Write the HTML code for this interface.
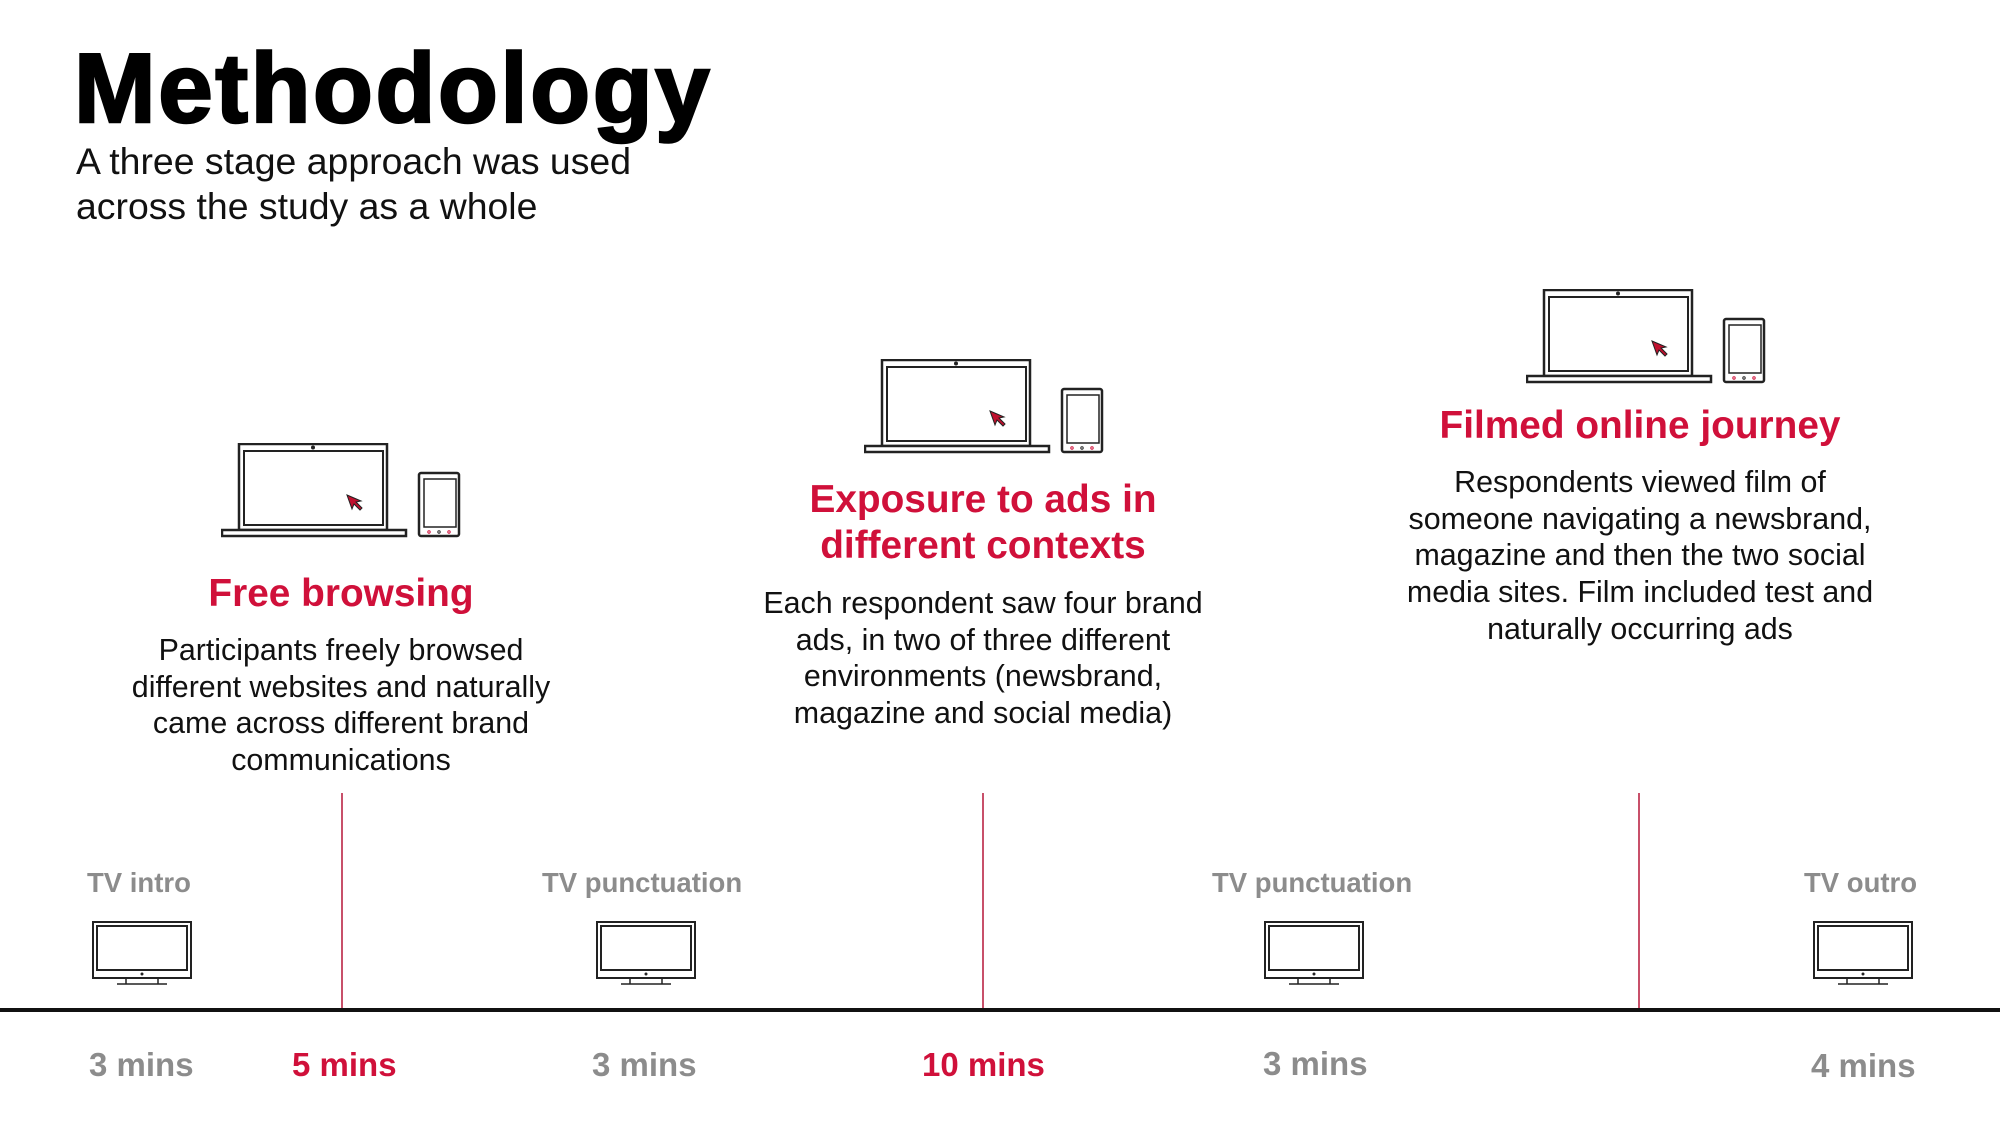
<!DOCTYPE html>
<html><head><meta charset="utf-8"><style>
body{margin:0;width:2000px;height:1125px;background:#fff;position:relative;overflow:hidden;font-family:"Liberation Sans",Arial,sans-serif}
.a{position:absolute;white-space:nowrap}
.c{position:absolute;text-align:center;transform:translateX(-50%);white-space:nowrap}
.h{color:#d0103a;font-weight:bold;font-size:38.8px;line-height:46px}
.b{color:#111;font-size:30.4px;line-height:36.7px}
.tv{color:#8c8c8c;font-weight:bold;font-size:27.5px}
.m{font-weight:bold;font-size:33px;color:#8c8c8c}
.r{color:#d0103a}
.vl{position:absolute;width:2px;background:#c8506a;top:793px;height:217px}
svg{position:absolute}
</style></head><body>
<div class="a" style="left:74px;top:33px;font-size:98px;font-weight:bold;letter-spacing:2.6px;line-height:110px;color:#000;-webkit-text-stroke:2.5px #000">Methodology</div>
<div class="a" style="left:76px;top:139px;font-size:37.4px;line-height:45px;color:#111">A three stage approach was used<br>across the study as a whole</div>

<svg width="0" height="0"><defs>
<g id="dev" fill="none" stroke="#222">
<rect x="18" y="1" width="148" height="86" stroke-width="2.5" fill="#fff"/>
<rect x="23" y="8" width="139" height="74" stroke-width="2"/>
<circle cx="92" cy="4.5" r="1.5" fill="#222"/>
<rect x="1" y="87" width="184" height="6" stroke-width="2.5" fill="#fff"/>
<path d="M126 52 L140 58 L135 59 L141 65 L139 67 L133 61 L131 66 Z" fill="#c0102e" stroke="#222" stroke-width="1"/>
<rect x="198" y="30" width="40" height="63" rx="2" stroke-width="2.5"/>
<rect x="203" y="36" width="32" height="48" stroke-width="1.5"/>
<circle cx="208" cy="89" r="1.2" stroke="#d0103a"/><circle cx="218" cy="89" r="1.2"/><circle cx="228" cy="89" r="1.2" stroke="#d0103a"/>
</g>
<g id="tv" fill="none" stroke="#222">
<rect x="1" y="1" width="98" height="56" stroke-width="2"/>
<rect x="5" y="5" width="90" height="44" stroke-width="2"/>
<circle cx="50" cy="53" r="1" fill="#222"/>
<path d="M34 57 V63 M66 57 V63 M25 63 H75" stroke-width="1.5"/>
</g>
</defs></svg>

<svg style="left:221px;top:443px" width="240" height="95"><use href="#dev"/></svg>
<svg style="left:864px;top:359px" width="240" height="95"><use href="#dev"/></svg>
<svg style="left:1526px;top:289px" width="240" height="95"><use href="#dev"/></svg>

<div class="c h" style="left:341px;top:571px">Free browsing</div>
<div class="c b" style="left:341px;top:632px">Participants freely browsed<br>different websites and naturally<br>came across different brand<br>communications</div>

<div class="c h" style="left:983px;top:477px">Exposure to ads in<br>different contexts</div>
<div class="c b" style="left:983px;top:585px">Each respondent saw four brand<br>ads, in two of three different<br>environments (newsbrand,<br>magazine and social media)</div>

<div class="c h" style="left:1640px;top:403px">Filmed online journey</div>
<div class="c b" style="left:1640px;top:464px">Respondents viewed film of<br>someone navigating a newsbrand,<br>magazine and then the two social<br>media sites. Film included test and<br>naturally occurring ads</div>

<div class="vl" style="left:341px"></div>
<div class="vl" style="left:982px"></div>
<div class="vl" style="left:1638px"></div>
<div style="position:absolute;left:0;top:1008px;width:2000px;height:4px;background:#111"></div>

<div class="a tv" style="left:87px;top:867px">TV intro</div>
<div class="a tv" style="left:542px;top:867px">TV punctuation</div>
<div class="a tv" style="left:1212px;top:867px">TV punctuation</div>
<div class="a tv" style="left:1804px;top:867px">TV outro</div>

<svg style="left:92px;top:921px" width="100" height="65"><use href="#tv"/></svg>
<svg style="left:596px;top:921px" width="100" height="65"><use href="#tv"/></svg>
<svg style="left:1264px;top:921px" width="100" height="65"><use href="#tv"/></svg>
<svg style="left:1813px;top:921px" width="100" height="65"><use href="#tv"/></svg>

<div class="a m" style="left:89px;top:1046px">3 mins</div>
<div class="a m r" style="left:292px;top:1046px">5 mins</div>
<div class="a m" style="left:592px;top:1046px">3 mins</div>
<div class="a m r" style="left:922px;top:1046px">10 mins</div>
<div class="a m" style="left:1263px;top:1045px">3 mins</div>
<div class="a m" style="left:1811px;top:1047px">4 mins</div>
</body></html>
